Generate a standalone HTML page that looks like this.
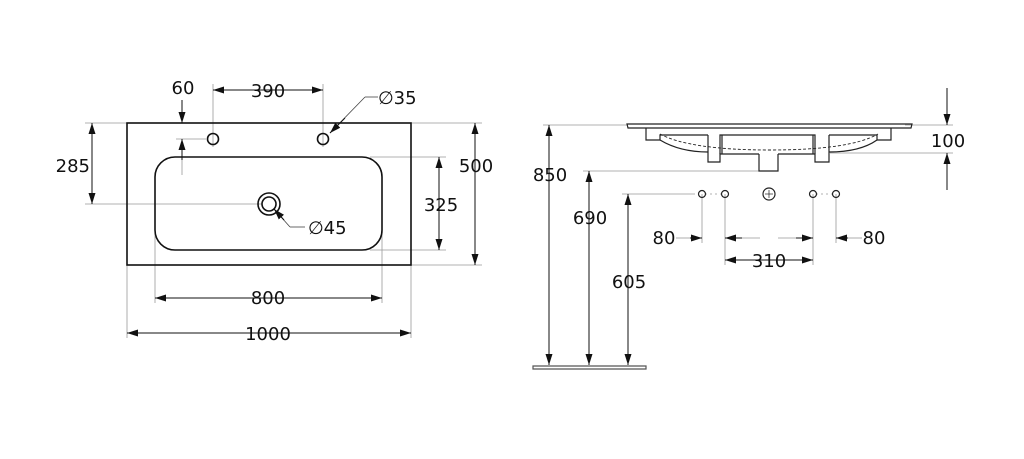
<!DOCTYPE html>
<html><head><meta charset="utf-8"><style>
body{margin:0;background:#fff;}
svg{display:block;font-family:"DejaVu Sans","Liberation Sans",sans-serif;}
text{font-size:18px;fill:#111;}
</style></head><body>
<svg width="1024" height="459" viewBox="0 0 1024 459">
<defs>
<marker id="a" viewBox="0 0 11 7" refX="11" refY="3.5" markerWidth="11" markerHeight="7" orient="auto-start-reverse" markerUnits="userSpaceOnUse"><path d="M0,0L11,3.5L0,7z" fill="#111"/></marker>
</defs>
<g stroke="#999" stroke-width="0.8" fill="none">
<line x1="85" y1="123" x2="127" y2="123"/>
<line x1="85" y1="204" x2="262" y2="204"/>
<line x1="411" y1="123" x2="482" y2="123"/>
<line x1="411" y1="265" x2="482" y2="265"/>
<line x1="370" y1="157" x2="446" y2="157"/>
<line x1="370" y1="250" x2="446" y2="250"/>
<line x1="155" y1="230" x2="155" y2="303"/>
<line x1="382" y1="230" x2="382" y2="303"/>
<line x1="127" y1="265" x2="127" y2="338"/>
<line x1="411" y1="265" x2="411" y2="338"/>
<line x1="213" y1="84" x2="213" y2="147"/>
<line x1="323" y1="84" x2="323" y2="147"/>
<line x1="176" y1="139" x2="206" y2="139"/>
<line x1="182" y1="139" x2="182" y2="175"/>
<line x1="330" y1="133" x2="365" y2="97" stroke="#444"/>
<line x1="365" y1="97" x2="378" y2="97" stroke="#444"/>
<line x1="274" y1="209" x2="290" y2="227" stroke="#444"/>
<line x1="290" y1="227" x2="305" y2="227" stroke="#444"/>
<line x1="543" y1="125" x2="627" y2="125"/>
<line x1="583" y1="171" x2="760" y2="171"/>
<line x1="622" y1="194" x2="695" y2="194"/>
<line x1="905" y1="125" x2="953" y2="125"/>
<line x1="830" y1="153" x2="953" y2="153"/>
<line x1="702" y1="194" x2="702" y2="243"/>
<line x1="725" y1="194" x2="725" y2="265"/>
<line x1="813" y1="194" x2="813" y2="265"/>
<line x1="836" y1="194" x2="836" y2="243"/>
<line x1="676" y1="238" x2="690" y2="238"/>
<line x1="760" y1="238" x2="742" y2="238"/>
<line x1="778" y1="238" x2="796" y2="238"/>
<line x1="862" y1="238" x2="848" y2="238"/>
<line x1="705" y1="194" x2="722" y2="194" stroke-dasharray="2 3"/>
<line x1="816" y1="194" x2="833" y2="194" stroke-dasharray="2 3"/>
</g>
<g stroke="#111" stroke-width="1" fill="none">
<line x1="92" y1="123" x2="92" y2="204" marker-start="url(#a)" marker-end="url(#a)"/>
<line x1="475" y1="123" x2="475" y2="265" marker-start="url(#a)" marker-end="url(#a)"/>
<line x1="439" y1="157" x2="439" y2="250" marker-start="url(#a)" marker-end="url(#a)"/>
<line x1="155" y1="298" x2="382" y2="298" marker-start="url(#a)" marker-end="url(#a)"/>
<line x1="127" y1="333" x2="411" y2="333" marker-start="url(#a)" marker-end="url(#a)"/>
<line x1="213" y1="90" x2="323" y2="90" marker-start="url(#a)" marker-end="url(#a)"/>
<line x1="182" y1="100" x2="182" y2="123" marker-end="url(#a)"/>
<line x1="182" y1="160" x2="182" y2="139" marker-end="url(#a)"/>
<line x1="345" y1="118" x2="330" y2="133" marker-end="url(#a)"/>
<line x1="284" y1="220" x2="274" y2="209" marker-end="url(#a)"/>
<line x1="549" y1="125" x2="549" y2="365" marker-start="url(#a)" marker-end="url(#a)"/>
<line x1="589" y1="171" x2="589" y2="365" marker-start="url(#a)" marker-end="url(#a)"/>
<line x1="628" y1="194" x2="628" y2="365" marker-start="url(#a)" marker-end="url(#a)"/>
<line x1="947" y1="88" x2="947" y2="125" marker-end="url(#a)"/>
<line x1="947" y1="190" x2="947" y2="153" marker-end="url(#a)"/>
<line x1="690" y1="238" x2="702" y2="238" marker-end="url(#a)"/>
<line x1="742" y1="238" x2="725" y2="238" marker-end="url(#a)"/>
<line x1="796" y1="238" x2="813" y2="238" marker-end="url(#a)"/>
<line x1="848" y1="238" x2="836" y2="238" marker-end="url(#a)"/>
<line x1="725" y1="260" x2="813" y2="260" marker-start="url(#a)" marker-end="url(#a)"/>
</g>
<g stroke="#111" stroke-width="1.6" fill="none">
<rect x="127" y="123" width="284" height="142"/>
<rect x="155" y="157" width="227" height="93" rx="20"/>
<circle cx="213" cy="139" r="5.5"/>
<circle cx="323" cy="139" r="5.5"/>
<circle cx="269" cy="204" r="11"/>
<circle cx="269" cy="204" r="7"/>
</g>
<g stroke="#222" stroke-width="1.2" fill="none">
<path d="M627,124 L912,124 L911,128 L628,128 Z"/>
<path d="M646,128 L646,140 L660,140 L660,135 L708,135"/>
<path d="M891,128 L891,140 L877,140 L877,135 L829,135"/>
<path d="M660,140 Q680,152 708,152"/>
<path d="M877,140 Q860,152 829,152"/>
<path d="M708,135 L708,162 L720,162 L720,154 L759,154 M778,154 L815,154 L815,162 L829,162 L829,135"/>
<path d="M720,154 L720,135 L722,135 L722,154 M722,135 L813,135 L813,154 M813,135 L815,135 L815,154"/>
<path d="M759,154 L759,171 L778,171 L778,154"/>
<path d="M660,134 Q690,150 770,150 Q850,150 878,134" stroke-dasharray="3 2" stroke-width="0.9"/>
<circle cx="702" cy="194" r="3.5"/>
<circle cx="725" cy="194" r="3.5"/>
<circle cx="769" cy="194" r="6"/>
<circle cx="813" cy="194" r="3.5"/>
<circle cx="836" cy="194" r="3.5"/>
<line x1="765" y1="194" x2="773" y2="194" stroke-width="0.7"/>
<line x1="769" y1="190" x2="769" y2="198" stroke-width="0.7"/>
<path d="M533,366 L646,366 L646,369 L533,369 Z" stroke="#555"/>
</g>
<text x="183" y="94" text-anchor="middle">60</text>
<text x="268" y="97" text-anchor="middle">390</text>
<text x="378" y="104">∅35</text>
<text x="90" y="172" text-anchor="end">285</text>
<text x="476" y="172" text-anchor="middle">500</text>
<text x="441" y="211" text-anchor="middle">325</text>
<text x="308" y="234">∅45</text>
<text x="268" y="304" text-anchor="middle">800</text>
<text x="268" y="340" text-anchor="middle">1000</text>
<text x="550" y="181" text-anchor="middle">850</text>
<text x="590" y="224" text-anchor="middle">690</text>
<text x="629" y="288" text-anchor="middle">605</text>
<text x="948" y="147" text-anchor="middle">100</text>
<text x="664" y="244" text-anchor="middle">80</text>
<text x="874" y="244" text-anchor="middle">80</text>
<text x="769" y="267" text-anchor="middle">310</text>
</svg>
</body></html>
